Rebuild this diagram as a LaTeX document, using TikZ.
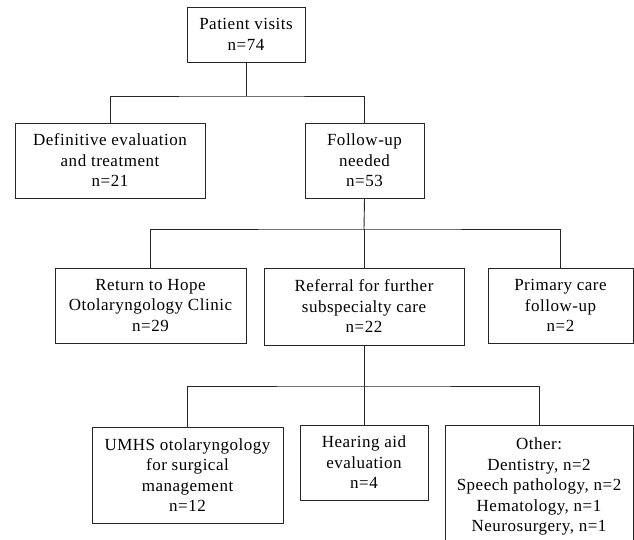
\documentclass[tikz,border=0pt]{standalone}
\usepackage{fontspec}
\setmainfont{Liberation Serif}[LetterSpace=3]
\usetikzlibrary{positioning}

\begin{document}
\begin{tikzpicture}[
        x=1pt, y=-1pt,
        font=\fontsize{17}{20.5}\selectfont,
        flowbox/.style={draw=black!85, line width=0.9pt, fill=white, align=center, inner sep=0pt},
        link/.style={draw=black!85, line width=0.9pt}
    ]
        \clip (0,0) rectangle (634,539);
        \fill[white] (0,0) rectangle (634,539);

        \node[flowbox, minimum width=118pt, minimum height=55pt] (visits) at (246,34.5) {Patient visits\\n=74};
        \node[flowbox, minimum width=190pt, minimum height=75pt] (definitive) at (110,160.5) {Definitive evaluation\\and treatment\\n=21};
        \node[flowbox, minimum width=119pt, minimum height=75pt] (followup) at (364.5,160.5) {Follow-up\\needed\\n=53};
        \node[flowbox, minimum width=191pt, minimum height=75pt] (hope) at (150.5,305.5) {Return to Hope\\Otolaryngology Clinic\\n=29};
        \node[flowbox, minimum width=200pt, minimum height=77pt] (referral) at (364,306.5) {Referral for further\\subspecialty care\\n=22};
        \node[flowbox, minimum width=145pt, minimum height=75pt] (primary) at (560.5,305.5) {Primary care\\follow-up\\n=2};
        \node[flowbox, minimum width=191pt, minimum height=96pt] (umhs) at (187.5,475) {UMHS otolaryngology\\for surgical\\management\\n=12};
        \node[flowbox, minimum width=128pt, minimum height=75pt] (hearing) at (364,462.5) {Hearing aid\\evaluation\\n=4};
        \node[flowbox, minimum width=188pt, minimum height=123pt] (other) at (539,486.5) {Other:\\Dentistry, n=2\\Speech pathology, n=2\\Hematology, n=1\\Neurosurgery, n=1};

        \coordinate (split1) at (246,96);
        \coordinate (split2) at (364,229);
        \coordinate (split3) at (364,386);

        \draw[link] (visits.south) -- (split1);
        \draw[link] (definitive.north) |- (split1) -| (followup.north);
        \draw[link] (followup.south) -- (split2);
        \draw[link] (hope.north) |- (split2) -| (primary.north);
        \draw[link] (split2) -- (referral.north);
        \draw[link] (referral.south) -- (split3);
        \draw[link] (umhs.north) |- (split3) -| (other.north);
        \draw[link] (split3) -- (hearing.north);
    \end{tikzpicture}
\end{document}
